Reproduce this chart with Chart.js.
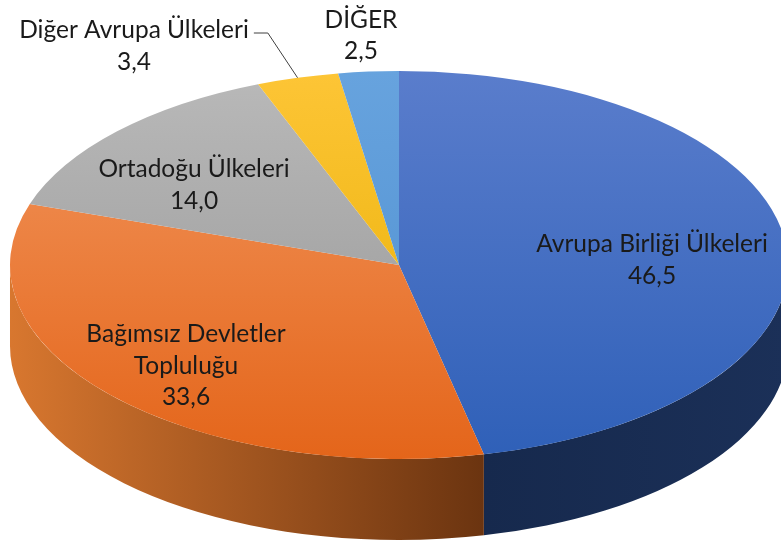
<!DOCTYPE html>
<html><head><meta charset="utf-8">
<script src="https://cdn.jsdelivr.net/npm/chart.js@4.4.0/dist/chart.umd.min.js"></script>
<style>html,body{margin:0;padding:0;background:#fff;overflow:hidden}#wrap{width:781px;height:548px;position:relative}</style>
</head><body><div id="wrap"><canvas id="c" width="781" height="548"></canvas></div>
<script>
// ---- data ----
const categories = ['Avrupa Birliği Ülkeleri', 'Bağımsız Devletler Topluluğu', 'Ortadoğu Ülkeleri', 'Diğer Avrupa Ülkeleri', 'DİĞER'];
const shares = [46.5, 33.6, 14.0, 3.4, 2.5];
const valueLabels = ['46,5', '33,6', '14,0', '3,4', '2,5'];
const labelLines = [['Avrupa Birliği Ülkeleri'], ['Bağımsız Devletler', 'Topluluğu'], ['Ortadoğu Ülkeleri'], ['Diğer Avrupa Ülkeleri'], ['DİĞER']];

// ---- styling / layout ----
const topColors = [['#5a7dcc', '#2f60b8'], ['#f2975f', '#e4651a'], ['#b9b9b9', '#959595'], ['#fdc536', '#e6ae00'], ['#67a3de', '#4d8ecf']];
const sideColors = [['#16294d', '#1b3058'], ['#d8772f', '#6b3410'], ['#8a8a8a', '#6a6a6a'], ['#c89600', '#a07800'], ['#3f78b0', '#2f6090']];
const rim = { cx: 399, cy: 265, rx: 389, ry: 194, depth: 81 };
// label centre x and first-line baseline y
const labelAnchors = [[652, 252], [186, 342], [194, 177], [134, 38], [361, 27.5]];
const lineGap = 31.5;
const fontSize = 24.5;
const fontFamily = 'Lato, "Open Sans", sans-serif';

function topFill(c) {
  const chart = c.chart;
  const a = chart.chartArea;
  const i = c.dataIndex;
  if (!a) return topColors[i][0];
  const cy = (a.top + a.bottom) / 2;
  const r = Math.min(a.right - a.left, a.bottom - a.top) / 2;
  const g = chart.ctx.createLinearGradient(0, cy - r, 0, cy + r);
  g.addColorStop(0, topColors[i][0]);
  g.addColorStop(1, topColors[i][1]);
  return g;
}

const pie3d = {
  id: 'pie3d',
  beforeDatasetsDraw(chart) {
    const ctx = chart.ctx;
    const arcs = chart.getDatasetMeta(0).data;
    const r = arcs[0].outerRadius, ox = arcs[0].x, oy = arcs[0].y;
    const sx = rim.rx / r, sy = rim.ry / r;
    const d = rim.depth / sy;
    ctx.save();
    ctx.translate(rim.cx, rim.cy);
    ctx.scale(sx, sy);
    ctx.translate(-ox, -oy);
    // side walls (front half only)
    arcs.forEach((arc, i) => {
      const s = Math.max(arc.startAngle, 0);
      const e = Math.min(arc.endAngle, Math.PI);
      if (e <= s) return;
      const xa = ox + r * Math.cos(s), xb = ox + r * Math.cos(e);
      const g = ctx.createLinearGradient(Math.min(xa, xb), 0, Math.max(xa, xb), 0);
      g.addColorStop(0, sideColors[i][0]);
      g.addColorStop(1, sideColors[i][1]);
      ctx.beginPath();
      ctx.arc(ox, oy, r, s, e, false);
      ctx.lineTo(ox + r * Math.cos(e), oy + r * Math.sin(e) + d);
      ctx.arc(ox, oy + d, r, e, s, true);
      ctx.closePath();
      ctx.fillStyle = g;
      ctx.fill();
    });
    // top surfaces drawn by the library's arc elements
    arcs.forEach(arc => arc.draw(ctx));
    ctx.restore();
    return false;
  },
  afterDraw(chart) {
    const ctx = chart.ctx;
    const arcs = chart.getDatasetMeta(0).data;
    ctx.save();
    ctx.font = fontSize + 'px ' + fontFamily;
    ctx.fillStyle = '#1a1a1a';
    ctx.textAlign = 'center';
    ctx.textBaseline = 'alphabetic';
    labelLines.forEach((lines, i) => {
      const [x, y] = labelAnchors[i];
      const all = lines.concat([valueLabels[i]]);
      all.forEach((t, k) => ctx.fillText(t, x, y + k * lineGap));
    });
    // leader line for the small yellow slice
    const yi = 3;
    const arc = arcs[yi];
    const mid = (arc.startAngle + arc.endAngle) / 2;
    const ex = rim.cx + rim.rx * Math.cos(mid);
    const ey = rim.cy + rim.ry * Math.sin(mid);
    const w = ctx.measureText(labelLines[yi][0]).width;
    const x0 = labelAnchors[yi][0] + w / 2 + 5;
    const y0 = labelAnchors[yi][1] - 5;
    ctx.strokeStyle = '#404040';
    ctx.lineWidth = 1;
    ctx.beginPath();
    ctx.moveTo(x0, y0);
    ctx.lineTo(x0 + 14, y0);
    ctx.lineTo(ex, ey);
    ctx.stroke();
    ctx.restore();
  }
};

new Chart(document.getElementById('c'), {
  type: 'pie',
  data: {
    labels: categories,
    datasets: [{ data: shares, backgroundColor: topFill, borderWidth: 0 }]
  },
  options: {
    responsive: false,
    animation: false,
    layout: { padding: 0 },
    plugins: { legend: { display: false }, tooltip: { enabled: false } }
  },
  plugins: [pie3d]
});
</script>
</body></html>
